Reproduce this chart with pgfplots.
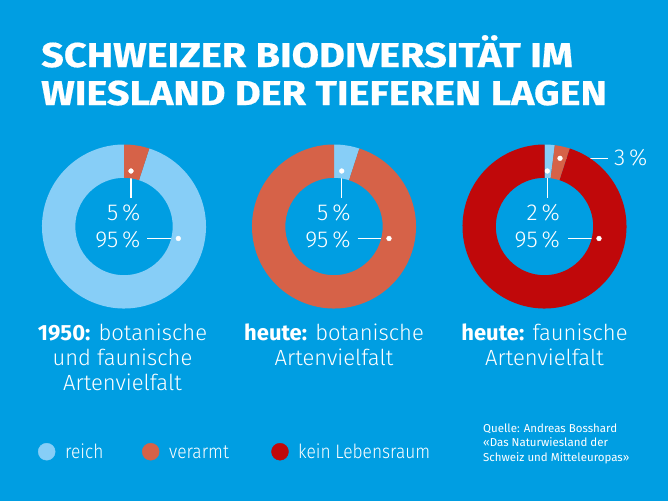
\documentclass[border=0pt]{standalone}
\usepackage{fontspec}
\setmainfont{Fira Sans Light}[BoldFont={Fira Sans Bold}]
\newfontfamily\regfont{Fira Sans}
\newfontfamily\titlefont{Fira Sans Bold}[FakeBold=0.5]
\usepackage{pgfplots}
\pgfplotsset{compat=1.18}
\usepackage{pgfplotstable}
\definecolor{bg}{HTML}{009EE2}
\definecolor{lblue}{HTML}{87CEF7}
\definecolor{orng}{HTML}{D66248}
\definecolor{dred}{HTML}{C0080A}

% donut segments: x, y = centre of the donut; start = cumulative percent before the segment; pct = share
\pgfplotstableread{
x y start pct
124 226.5 5 95
334 226.5 0 5
544.5 226.5 0 2
}\reich
\pgfplotstableread{
x y start pct
124 226.5 0 5
334 226.5 5 95
544.5 226.5 2 3
}\verarmt
\pgfplotstableread{
x y start pct
544.5 226.5 5 95
}\keinLR

\pgfdeclareplotmark{donutseg}{%
  \pgfmathsetmacro\aA{90-3.6*\segstart}%
  \pgfmathsetmacro\aB{90-3.6*(\segstart+\segpct)}%
  \pgfpathmoveto{\pgfpointpolar{\aA}{82pt}}%
  \pgfpatharc{\aA}{\aB}{82pt}%
  \pgfpathlineto{\pgfpointpolar{\aB}{48.7pt}}%
  \pgfpatharc{\aB}{\aA}{48.7pt}%
  \pgfpathclose
  \pgfusepathqfill
}

\begin{document}
\begin{tikzpicture}
\fill[bg] (0,0) rectangle (668pt,501pt);
\begin{axis}[at={(0,0)}, anchor=south west, scale only axis,
  width=668pt, height=501pt, xmin=0, xmax=668, ymin=0, ymax=501,
  y dir=reverse, hide axis, clip=false]
\addplot[only marks, mark=donutseg, color=lblue,
  visualization depends on={\thisrow{start}\as\segstart},
  visualization depends on={\thisrow{pct}\as\segpct}] table[x=x,y=y] {\reich};
\addplot[only marks, mark=donutseg, color=orng,
  visualization depends on={\thisrow{start}\as\segstart},
  visualization depends on={\thisrow{pct}\as\segpct}] table[x=x,y=y] {\verarmt};
\addplot[only marks, mark=donutseg, color=dred,
  visualization depends on={\thisrow{start}\as\segstart},
  visualization depends on={\thisrow{pct}\as\segpct}] table[x=x,y=y] {\keinLR};

% leader lines
\addplot[white, line width=1.2pt] coordinates {(131,171) (131,198)};
\addplot[white, line width=1.2pt] coordinates {(147,238.5) (178.3,238.5)};
\addplot[white, line width=1.2pt] coordinates {(341.7,171) (341.7,198)};
\addplot[white, line width=1.2pt] coordinates {(357.5,238.5) (389,238.5)};
\addplot[white, line width=1.2pt] coordinates {(547.3,171) (547.3,198)};
\addplot[white, line width=1.2pt] coordinates {(568.3,238.5) (599,238.5)};
\addplot[white, line width=1.2pt] coordinates {(560,158.3) (607.7,158.3)};
\addplot[only marks, mark=*, mark size=2.4pt, white] coordinates {
 (131,171) (178.3,238.5) (341.7,171) (389,238.5) (547.3,171) (599,238.5) (560,158.3)};

% percentage labels
\begin{scope}[every node/.style={white, inner sep=0pt, font=\fontsize{23}{26}\selectfont}]
\node[anchor=base east] at (axis cs:140.7,220.7) {5\,\%};
\node[anchor=base east] at (axis cs:140.7,247.3) {95\,\%};
\node[anchor=base east] at (axis cs:350.7,220.7) {5\,\%};
\node[anchor=base east] at (axis cs:350.7,247.3) {95\,\%};
\node[anchor=base east] at (axis cs:560,220.7) {2\,\%};
\node[anchor=base east] at (axis cs:560,247.3) {95\,\%};
\node[anchor=base west] at (axis cs:614,165.7) {3\,\%};
\end{scope}

% captions
\begin{scope}[every node/.style={white, inner sep=0pt, anchor=base, font=\fontsize{22}{25}\selectfont}]
\node at (axis cs:122.5,340) {\textbf{1950:} botanische};
\node at (axis cs:122.5,365) {und faunische};
\node at (axis cs:122.5,390) {Artenvielfalt};
\node at (axis cs:334,340) {\textbf{heute:} botanische};
\node at (axis cs:334,365) {Artenvielfalt};
\node at (axis cs:544.5,340) {\textbf{heute:} faunische};
\node at (axis cs:544.5,365) {Artenvielfalt};
\end{scope}

% legend
\addplot[only marks, mark=*, mark size=8.5pt, lblue] coordinates {(46.7,451.7)};
\addplot[only marks, mark=*, mark size=8.5pt, orng] coordinates {(150.7,451.7)};
\addplot[only marks, mark=*, mark size=8.5pt, dred] coordinates {(280,451.7)};
\begin{scope}[every node/.style={white, inner sep=0pt, anchor=base west, xscale=0.89, font=\fontsize{19.5}{24}\selectfont}]
\node at (axis cs:65,458.3) {reich};
\node at (axis cs:169,458.3) {verarmt};
\node at (axis cs:298,458.3) {kein Lebensraum};
\end{scope}

% source
\begin{scope}[every node/.style={white, inner sep=0pt, anchor=base west, font=\regfont\fontsize{11.5}{14}\selectfont}]
\node at (axis cs:483,432) {Quelle: Andreas Bosshard};
\node at (axis cs:483,446.5) {«Das Naturwiesland der};
\node at (axis cs:483,461) {Schweiz und Mitteleuropas»};
\end{scope}

% title
\begin{scope}[every node/.style={white, inner sep=0pt, anchor=base west, xscale=1.15, font=\titlefont\fontsize{34.5}{38}\selectfont}]
\node at (axis cs:41,67) {SCHWEIZER BIODIVERSITÄT IM};
\node at (axis cs:41,105) {WIESLAND DER TIEFEREN LAGEN};
\end{scope}
\end{axis}
\pgfresetboundingbox
\useasboundingbox (0,0) rectangle (668pt,501pt);
\end{tikzpicture}
\end{document}
